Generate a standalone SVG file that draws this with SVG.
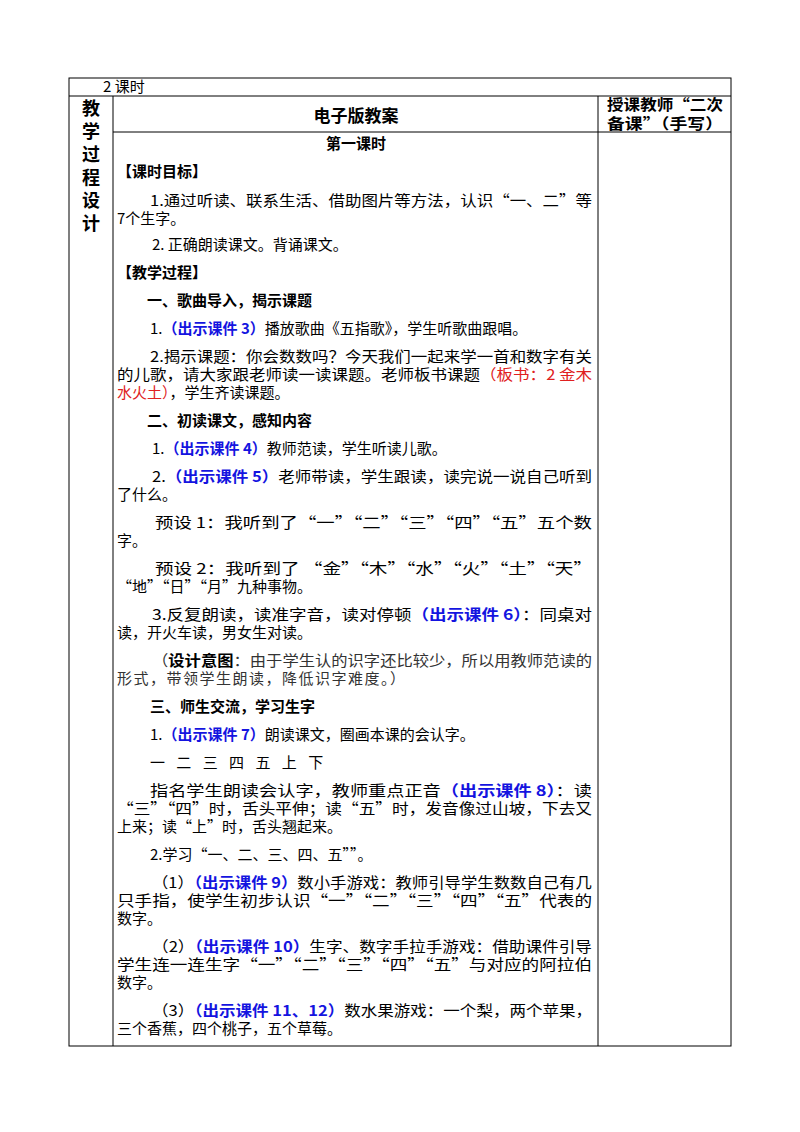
<svg xmlns="http://www.w3.org/2000/svg" width="800" height="1132" viewBox="0 0 800 1132">
<style>
text{font-family:"Noto Sans CJK SC","Liberation Serif",serif;font-size:15px;fill:#000}
.b{font-weight:bold;font-family:"Noto Sans CJK SC",sans-serif}
.bl{fill:#1414e0;font-weight:bold;font-family:"Noto Sans CJK SC",sans-serif}
.r{fill:#e02020}
.g{fill:#333}
line{stroke:#000;stroke-width:1}
</style>
<rect width="800" height="1132" fill="#fff"/>
<g id="table">
<rect x="69" y="78" width="662" height="968" fill="none" stroke="#000"/>
<line x1="69" y1="96" x2="731" y2="96"/>
<line x1="113" y1="96" x2="113" y2="1046"/>
<line x1="598" y1="96" x2="598" y2="1046"/>
<line x1="113" y1="132" x2="731" y2="132"/>
</g>
<g id="text">
<text x="103" y="92">2 课时</text>
<text class="b" x="82" y="115" style="font-size:18px">教</text>
<text class="b" x="82" y="138" style="font-size:18px">学</text>
<text class="b" x="82" y="161" style="font-size:18px">过</text>
<text class="b" x="82" y="184" style="font-size:18px">程</text>
<text class="b" x="82" y="207" style="font-size:18px">设</text>
<text class="b" x="82" y="230" style="font-size:18px">计</text>
<text class="b" x="356" y="122" text-anchor="middle" style="font-size:17px">电子版教案</text>
<text class="b" x="607" y="110" textLength="116" lengthAdjust="spacingAndGlyphs">授课教师“二次</text>
<text class="b" x="607" y="129" textLength="116" lengthAdjust="spacingAndGlyphs">备课”（手写）</text>
<text class="b" x="356" y="149" text-anchor="middle">第一课时</text>
<text class="b" x="117" y="177">【课时目标】</text>
<text x="150" y="206" textLength="442" lengthAdjust="spacingAndGlyphs">1.通过听读、联系生活、借助图片等方法，认识“一、二”等</text>
<text x="117" y="224">7个生字。</text>
<text x="152" y="250">2. 正确朗读课文。背诵课文。</text>
<text class="b" x="117" y="278">【教学过程】</text>
<text class="b" x="147" y="306">一、歌曲导入，揭示课题</text>
<text x="150" y="334">1.<tspan class="bl">（出示课件 3）</tspan>播放歌曲《五指歌》，学生听歌曲跟唱。</text>
<text x="150" y="362" textLength="442" lengthAdjust="spacingAndGlyphs">2.揭示课题：你会数数吗？今天我们一起来学一首和数字有关</text>
<text x="117" y="380" textLength="475" lengthAdjust="spacingAndGlyphs">的儿歌，请大家跟老师读一读课题。老师板书课题<tspan class="r">（板书：2 金木</tspan></text>
<text x="117" y="398"><tspan class="r">水火土）</tspan>，学生齐读课题。</text>
<text class="b" x="147" y="426">二、初读课文，感知内容</text>
<text x="152" y="454">1.<tspan class="bl">（出示课件 4）</tspan>教师范读，学生听读儿歌。</text>
<text x="152" y="482" textLength="440" lengthAdjust="spacingAndGlyphs">2.<tspan class="bl">（出示课件 5）</tspan>老师带读，学生跟读，读完说一说自己听到</text>
<text x="117" y="500">了什么。</text>
<text x="155" y="528" textLength="437" lengthAdjust="spacingAndGlyphs">预设 1：我听到了“一”“二”“三”“四”“五”五个数</text>
<text x="117" y="546">字。</text>
<text x="155" y="574" textLength="437" lengthAdjust="spacingAndGlyphs">预设 2：我听到了 “金”“木”“水”“火”“土”“天”</text>
<text x="117" y="592">“地”“日”“月”九种事物。</text>
<text x="152" y="620" textLength="440" lengthAdjust="spacingAndGlyphs">3.反复朗读，读准字音，读对停顿<tspan class="bl">（出示课件 6）</tspan>：同桌对</text>
<text x="117" y="638">读，开火车读，男女生对读。</text>
<text x="152" y="666" textLength="440" lengthAdjust="spacingAndGlyphs" class="g">（<tspan class="b" style="fill:#000">设计意图</tspan>：由于学生认的识字还比较少，所以用教师范读的</text>
<text x="117" y="684" class="g" letter-spacing="1.5">形式，带领学生朗读，降低识字难度。）</text>
<text class="b" x="150" y="712">三、师生交流，学习生字</text>
<text x="150" y="740">1.<tspan class="bl">（出示课件 7）</tspan>朗读课文，圈画本课的会认字。</text>
<text x="150" y="768" letter-spacing="4">一 二 三 四 五 上 下</text>
<text x="150" y="796" textLength="442" lengthAdjust="spacingAndGlyphs">指名学生朗读会认字，教师重点正音<tspan class="bl">（出示课件 8）</tspan>：读</text>
<text x="117" y="814" textLength="475" lengthAdjust="spacingAndGlyphs">“三”“四”时，舌头平伸；读“五”时，发音像过山坡，下去又</text>
<text x="117" y="832">上来；读“上”时，舌头翘起来。</text>
<text x="150" y="860">2.学习“一、二、三、四、五””。</text>
<text x="152" y="888" textLength="440" lengthAdjust="spacingAndGlyphs">（1）<tspan class="bl">（出示课件 9）</tspan>数小手游戏：教师引导学生数数自己有几</text>
<text x="117" y="906" textLength="475" lengthAdjust="spacingAndGlyphs">只手指，使学生初步认识“一”“二”“三”“四”“五”代表的</text>
<text x="117" y="924">数字。</text>
<text x="152" y="952" textLength="440" lengthAdjust="spacingAndGlyphs">（2）<tspan class="bl">（出示课件 10）</tspan>生字、数字手拉手游戏：借助课件引导</text>
<text x="117" y="970" textLength="475" lengthAdjust="spacingAndGlyphs">学生连一连生字“一”“二”“三”“四”“五”与对应的阿拉伯</text>
<text x="117" y="988">数字。</text>
<text x="152" y="1016" textLength="440" lengthAdjust="spacingAndGlyphs">（3）<tspan class="bl">（出示课件 11、12）</tspan>数水果游戏：一个梨，两个苹果，</text>
<text x="117" y="1034">三个香蕉，四个桃子，五个草莓。</text>
</g>
</svg>
